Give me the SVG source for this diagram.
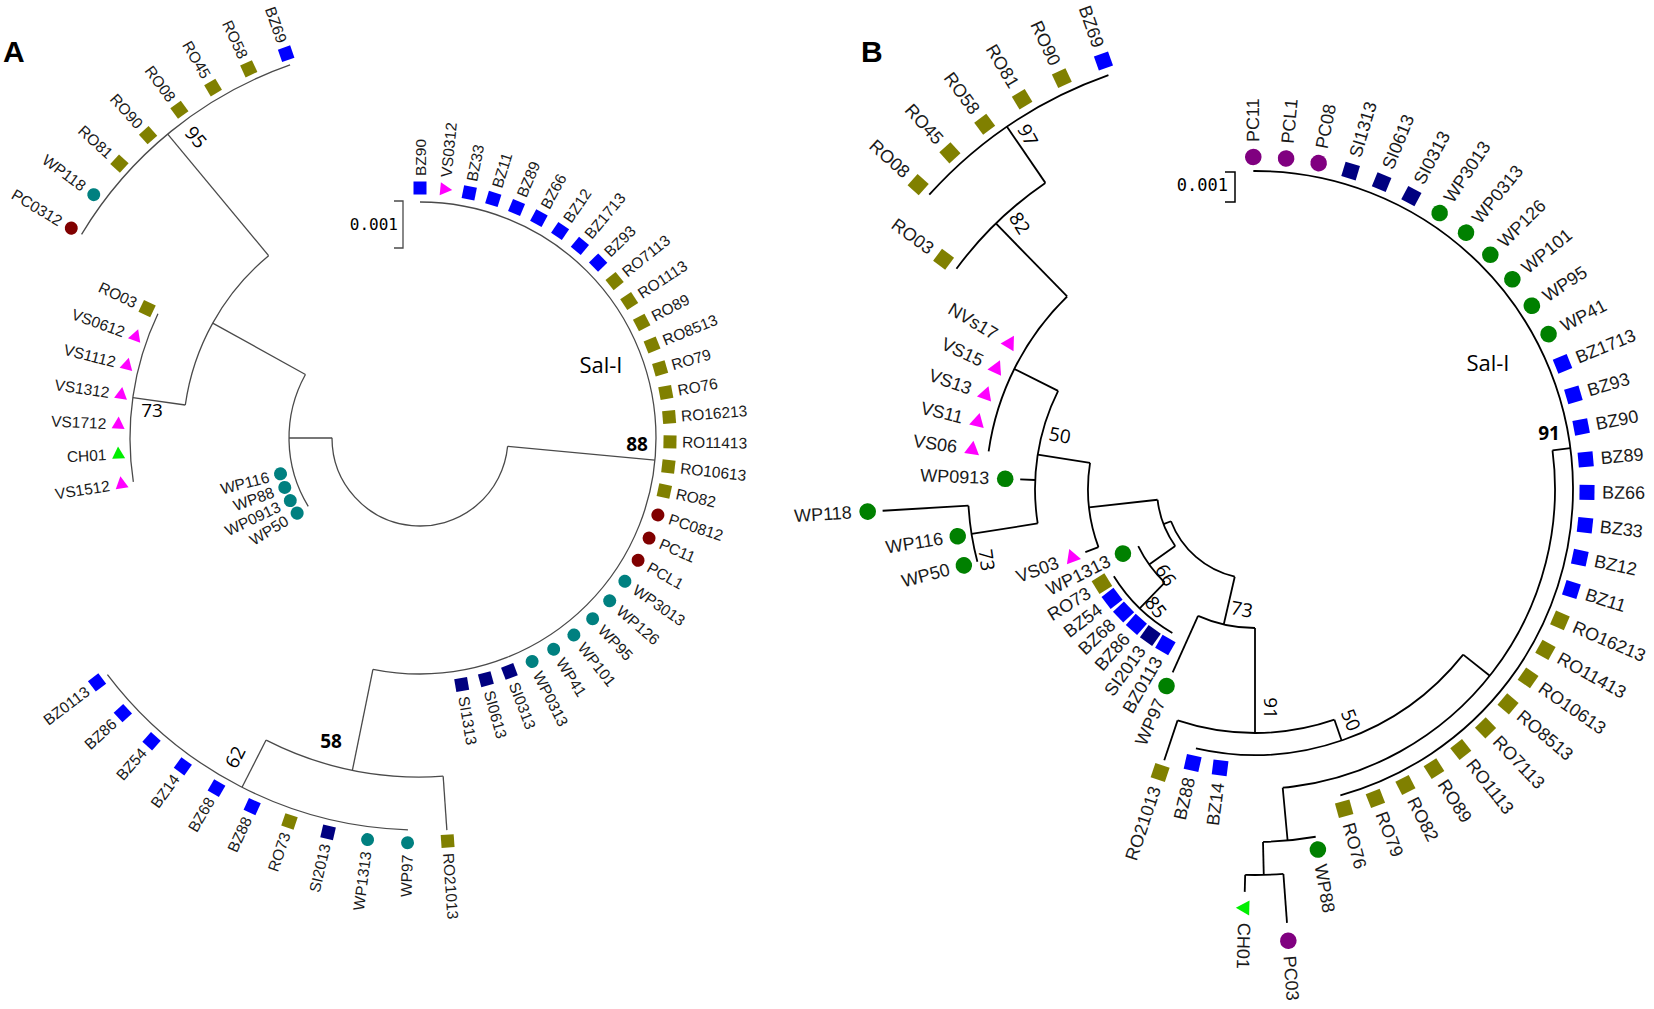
<svg xmlns="http://www.w3.org/2000/svg" width="1654" height="1009" viewBox="0 0 1654 1009">
<style>
.ea{fill:none;stroke:#4a4a4a;stroke-width:1.3}
.eb{fill:none;stroke:#000;stroke-width:1.8}
.la{font-family:"Liberation Sans",Arial,sans-serif;font-size:15.5px;fill:#1a1a1a;dominant-baseline:central}
.lb{font-family:"Liberation Sans",Arial,sans-serif;font-size:18px;fill:#1a1a1a;dominant-baseline:central}
.l{text-anchor:end}
.sup{font-family:"Open Sans","Liberation Sans",sans-serif;font-size:19px;fill:#000;text-anchor:middle;dominant-baseline:central}
.bold{font-weight:bold}
.clade{font-family:"Open Sans","Liberation Sans",sans-serif;font-size:22px;fill:#000;text-anchor:middle;dominant-baseline:central}
.scale{font-family:"DejaVu Sans Mono","Liberation Mono",monospace;fill:#000;text-anchor:end}
.panel{font-family:"Liberation Sans",Arial,sans-serif;font-size:30px;font-weight:bold;fill:#000}
.ro{fill:#808000}.bz{fill:#0000ff}.si{fill:#000080}.wpa{fill:#008080}.pca{fill:#800000}
.vs{fill:#ff00ff}.ch{fill:#00ee00}.wpb{fill:#008000}.pcb{fill:#800080}
</style>
<defs>
<rect id="mSqA" x="-6.5" y="-6.5" width="13" height="13"/>
<circle id="mCiA" r="6.5"/>
<path id="mTrA" d="M0,7.5 L-6.5,-4.5 L6.5,-4.5Z"/>
<rect id="mSqB" x="-7.5" y="-7.5" width="15" height="15"/>
<circle id="mCiB" r="8.3"/>
<path id="mTrB" d="M0,8.5 L-7.5,-5 L7.5,-5Z"/>
</defs>
<rect width="1654" height="1009" fill="#fff"/>

<text class="panel" x="3" y="62">A</text>
<text class="panel" x="861" y="62">B</text>

<!-- ================= PANEL A connectors ================= -->
<g id="connectors-A" class="ea" transform="translate(420,438)">
<circle r="88" pathLength="360" stroke-dasharray="174.6 360" transform="rotate(5.4)"/>
<circle r="131" pathLength="360" stroke-dasharray="60.44 360" transform="rotate(148.56)"/>
<circle r="237" pathLength="360" stroke-dasharray="42.3 360" transform="rotate(188)"/>
<circle r="290" pathLength="360" stroke-dasharray="34.08 360" transform="rotate(171.28)"/>
<circle r="395" pathLength="360" stroke-dasharray="39.76 360" transform="rotate(211.04)"/>
<circle r="236" pathLength="360" stroke-dasharray="191.5 360" transform="rotate(-90)"/>
<circle r="339" pathLength="360" stroke-dasharray="30.92 360" transform="rotate(86.08)"/>
<circle r="392" pathLength="360" stroke-dasharray="51.12 360" transform="rotate(91.76)"/>
<line x1="88" x2="131" transform="rotate(180)"/>
<line x1="131" x2="237" transform="rotate(209)"/>
<line x1="237" x2="290" transform="rotate(188)"/>
<line x1="237" x2="395" transform="rotate(230.3)"/>
<line x1="88" x2="236" transform="rotate(5.4)"/>
<line x1="236" x2="339" transform="rotate(101.5)"/>
<line x1="339" x2="393" transform="rotate(86.08)"/>
<line x1="339" x2="392" transform="rotate(117)"/>
</g>

<!-- ================= PANEL A leaves ================= -->
<g id="leaves-A" class="la" transform="translate(420,438)">
<g id="a-BZ90" transform="rotate(-90)"><use href="#mSqA" x="250" class="bz"/><text x="262">BZ90</text></g>
<g id="a-VS0312" transform="rotate(-84.32)"><use href="#mTrA" x="250" class="vs"/><text x="262">VS0312</text></g>
<g id="a-BZ33" transform="rotate(-78.64)"><use href="#mSqA" x="250" class="bz"/><text x="262">BZ33</text></g>
<g id="a-BZ11" transform="rotate(-72.96)"><use href="#mSqA" x="250" class="bz"/><text x="262">BZ11</text></g>
<g id="a-BZ89" transform="rotate(-67.28)"><use href="#mSqA" x="250" class="bz"/><text x="262">BZ89</text></g>
<g id="a-BZ66" transform="rotate(-61.6)"><use href="#mSqA" x="250" class="bz"/><text x="262">BZ66</text></g>
<g id="a-BZ12" transform="rotate(-55.92)"><use href="#mSqA" x="250" class="bz"/><text x="262">BZ12</text></g>
<g id="a-BZ1713" transform="rotate(-50.24)"><use href="#mSqA" x="250" class="bz"/><text x="262">BZ1713</text></g>
<g id="a-BZ93" transform="rotate(-44.56)"><use href="#mSqA" x="250" class="bz"/><text x="262">BZ93</text></g>
<g id="a-RO7113" transform="rotate(-38.88)"><use href="#mSqA" x="250" class="ro"/><text x="262">RO7113</text></g>
<g id="a-RO1113" transform="rotate(-33.2)"><use href="#mSqA" x="250" class="ro"/><text x="262">RO1113</text></g>
<g id="a-RO89" transform="rotate(-27.52)"><use href="#mSqA" x="250" class="ro"/><text x="262">RO89</text></g>
<g id="a-RO8513" transform="rotate(-21.84)"><use href="#mSqA" x="250" class="ro"/><text x="262">RO8513</text></g>
<g id="a-RO79" transform="rotate(-16.16)"><use href="#mSqA" x="250" class="ro"/><text x="262">RO79</text></g>
<g id="a-RO76" transform="rotate(-10.48)"><use href="#mSqA" x="250" class="ro"/><text x="262">RO76</text></g>
<g id="a-RO16213" transform="rotate(-4.8)"><use href="#mSqA" x="250" class="ro"/><text x="262">RO16213</text></g>
<g id="a-RO11413" transform="rotate(0.88)"><use href="#mSqA" x="250" class="ro"/><text x="262">RO11413</text></g>
<g id="a-RO10613" transform="rotate(6.56)"><use href="#mSqA" x="250" class="ro"/><text x="262">RO10613</text></g>
<g id="a-RO82" transform="rotate(12.24)"><use href="#mSqA" x="250" class="ro"/><text x="262">RO82</text></g>
<g id="a-PC0812" transform="rotate(17.92)"><use href="#mCiA" x="250" class="pca"/><text x="262">PC0812</text></g>
<g id="a-PC11" transform="rotate(23.6)"><use href="#mCiA" x="250" class="pca"/><text x="262">PC11</text></g>
<g id="a-PCL1" transform="rotate(29.28)"><use href="#mCiA" x="250" class="pca"/><text x="262">PCL1</text></g>
<g id="a-WP3013" transform="rotate(34.96)"><use href="#mCiA" x="250" class="wpa"/><text x="262">WP3013</text></g>
<g id="a-WP126" transform="rotate(40.64)"><use href="#mCiA" x="250" class="wpa"/><text x="262">WP126</text></g>
<g id="a-WP95" transform="rotate(46.32)"><use href="#mCiA" x="250" class="wpa"/><text x="262">WP95</text></g>
<g id="a-WP101" transform="rotate(52)"><use href="#mCiA" x="250" class="wpa"/><text x="262">WP101</text></g>
<g id="a-WP41" transform="rotate(57.68)"><use href="#mCiA" x="250" class="wpa"/><text x="262">WP41</text></g>
<g id="a-WP0313" transform="rotate(63.36)"><use href="#mCiA" x="250" class="wpa"/><text x="262">WP0313</text></g>
<g id="a-SI0313" transform="rotate(69.04)"><use href="#mSqA" x="250" class="si"/><text x="262">SI0313</text></g>
<g id="a-SI0613" transform="rotate(74.72)"><use href="#mSqA" x="250" class="si"/><text x="262">SI0613</text></g>
<g id="a-SI1313" transform="rotate(80.4)"><use href="#mSqA" x="250" class="si"/><text x="262">SI1313</text></g>
<g id="a-RO21013" transform="rotate(86.08)"><use href="#mSqA" x="404" class="ro"/><text x="416">RO21013</text></g>
<g id="a-WP97" transform="rotate(91.76)"><use href="#mCiA" x="405" class="wpa"/><text class="l" x="-417" transform="rotate(180)">WP97</text></g>
<g id="a-WP1313" transform="rotate(97.44)"><use href="#mCiA" x="405" class="wpa"/><text class="l" x="-417" transform="rotate(180)">WP1313</text></g>
<g id="a-SI2013" transform="rotate(103.12)"><use href="#mSqA" x="405" class="si"/><text class="l" x="-417" transform="rotate(180)">SI2013</text></g>
<g id="a-RO73" transform="rotate(108.8)"><use href="#mSqA" x="405" class="ro"/><text class="l" x="-417" transform="rotate(180)">RO73</text></g>
<g id="a-BZ88" transform="rotate(114.48)"><use href="#mSqA" x="405" class="bz"/><text class="l" x="-417" transform="rotate(180)">BZ88</text></g>
<g id="a-BZ68" transform="rotate(120.16)"><use href="#mSqA" x="405" class="bz"/><text class="l" x="-417" transform="rotate(180)">BZ68</text></g>
<g id="a-BZ14" transform="rotate(125.84)"><use href="#mSqA" x="405" class="bz"/><text class="l" x="-417" transform="rotate(180)">BZ14</text></g>
<g id="a-BZ54" transform="rotate(131.52)"><use href="#mSqA" x="405" class="bz"/><text class="l" x="-417" transform="rotate(180)">BZ54</text></g>
<g id="a-BZ86" transform="rotate(137.2)"><use href="#mSqA" x="405" class="bz"/><text class="l" x="-417" transform="rotate(180)">BZ86</text></g>
<g id="a-BZ0113" transform="rotate(142.88)"><use href="#mSqA" x="405" class="bz"/><text class="l" x="-417" transform="rotate(180)">BZ0113</text></g>
<g id="a-WP50" transform="rotate(148.56)"><use href="#mCiA" x="144" class="wpa"/><text class="l" x="-156" transform="rotate(180)">WP50</text></g>
<g id="a-WP0913" transform="rotate(154.24)"><use href="#mCiA" x="144" class="wpa"/><text class="l" x="-156" transform="rotate(180)">WP0913</text></g>
<g id="a-WP88" transform="rotate(159.92)"><use href="#mCiA" x="144" class="wpa"/><text class="l" x="-156" transform="rotate(180)">WP88</text></g>
<g id="a-WP116" transform="rotate(165.6)"><use href="#mCiA" x="144" class="wpa"/><text class="l" x="-156" transform="rotate(180)">WP116</text></g>
<g id="a-VS1512" transform="rotate(171.28)"><use href="#mTrA" x="302" class="vs"/><text class="l" x="-314" transform="rotate(180)">VS1512</text></g>
<g id="a-CH01" transform="rotate(176.96)"><use href="#mTrA" x="302" class="ch"/><text class="l" x="-314" transform="rotate(180)">CH01</text></g>
<g id="a-VS1712" transform="rotate(182.64)"><use href="#mTrA" x="302" class="vs"/><text class="l" x="-314" transform="rotate(180)">VS1712</text></g>
<g id="a-VS1312" transform="rotate(188.32)"><use href="#mTrA" x="302" class="vs"/><text class="l" x="-314" transform="rotate(180)">VS1312</text></g>
<g id="a-VS1112" transform="rotate(194)"><use href="#mTrA" x="302" class="vs"/><text class="l" x="-314" transform="rotate(180)">VS1112</text></g>
<g id="a-VS0612" transform="rotate(199.68)"><use href="#mTrA" x="302" class="vs"/><text class="l" x="-314" transform="rotate(180)">VS0612</text></g>
<g id="a-RO03" transform="rotate(205.36)"><use href="#mSqA" x="302" class="ro"/><text class="l" x="-314" transform="rotate(180)">RO03</text></g>
<g id="a-PC0312" transform="rotate(211.04)"><use href="#mCiA" x="407" class="pca"/><text class="l" x="-419" transform="rotate(180)">PC0312</text></g>
<g id="a-WP118" transform="rotate(216.72)"><use href="#mCiA" x="407" class="wpa"/><text class="l" x="-419" transform="rotate(180)">WP118</text></g>
<g id="a-RO81" transform="rotate(222.4)"><use href="#mSqA" x="407" class="ro"/><text class="l" x="-419" transform="rotate(180)">RO81</text></g>
<g id="a-RO90" transform="rotate(228.08)"><use href="#mSqA" x="407" class="ro"/><text class="l" x="-419" transform="rotate(180)">RO90</text></g>
<g id="a-RO08" transform="rotate(233.76)"><use href="#mSqA" x="407" class="ro"/><text class="l" x="-419" transform="rotate(180)">RO08</text></g>
<g id="a-RO45" transform="rotate(239.44)"><use href="#mSqA" x="407" class="ro"/><text class="l" x="-419" transform="rotate(180)">RO45</text></g>
<g id="a-RO58" transform="rotate(245.12)"><use href="#mSqA" x="407" class="ro"/><text class="l" x="-419" transform="rotate(180)">RO58</text></g>
<g id="a-BZ69" transform="rotate(250.8)"><use href="#mSqA" x="407" class="bz"/><text class="l" x="-419" transform="rotate(180)">BZ69</text></g>
</g>

<!-- Panel A labels -->
<g id="a-labels">
<text class="clade" x="601" y="364">Sal-I</text>
<text class="sup bold" x="637" y="444">88</text>
<text class="sup" x="196" y="137" transform="rotate(50,196,137)">95</text>
<text class="sup" x="152" y="410">73</text>
<text class="sup bold" x="331" y="741">58</text>
<text class="sup" x="235" y="757" transform="rotate(-63,235,757)">62</text>
<g id="a-scale"><path class="ea" d="M394,201 H403 V248 H394"/><text class="scale" x="398" y="230" font-size="16">0.001</text></g>
</g>

<!-- ================= PANEL B connectors ================= -->
<g id="connectors-B" class="eb" transform="translate(1255,489)">
<circle r="439" pathLength="360" stroke-dasharray="28.4 360" transform="rotate(222.1)"/>
<circle r="371" pathLength="360" stroke-dasharray="19.18 360" transform="rotate(216.42)"/>
<circle r="269" pathLength="360" stroke-dasharray="37.68 360" transform="rotate(188.02)"/>
<circle r="220" pathLength="360" stroke-dasharray="35.5 360" transform="rotate(171)"/>
<circle r="287" pathLength="360" stroke-dasharray="11.36 360" transform="rotate(165.3)"/>
<circle r="167" pathLength="360" stroke-dasharray="29.38 360" transform="rotate(159.62)"/>
<circle r="98" pathLength="360" stroke-dasharray="29.2 360" transform="rotate(144.5)"/>
<circle r="90" pathLength="360" stroke-dasharray="56 360" transform="rotate(103)"/>
<circle r="130" pathLength="360" stroke-dasharray="19.94 360" transform="rotate(134)"/>
<circle r="166" pathLength="360" stroke-dasharray="28.4 360" transform="rotate(119.86)"/>
<circle r="139" pathLength="360" stroke-dasharray="24.18 360" transform="rotate(90)"/>
<circle r="244" pathLength="360" stroke-dasharray="37.5 360" transform="rotate(71)"/>
<circle r="266" pathLength="360" stroke-dasharray="64.32 360" transform="rotate(38.5)"/>
<circle r="300" pathLength="360" stroke-dasharray="92.1 360" transform="rotate(-7.4)"/>
<circle r="318" pathLength="360" stroke-dasharray="164.72 360" transform="rotate(-90.3)"/>
<circle r="353" pathLength="360" stroke-dasharray="8.6 360" transform="rotate(80.1)"/>
<circle r="386" pathLength="360" stroke-dasharray="5.68 360" transform="rotate(85.78)"/>
<line x1="371" x2="439" transform="rotate(235.6)"/>
<line x1="269" x2="371" transform="rotate(225.7)"/>
<line x1="220" x2="269" transform="rotate(206.5)"/>
<line x1="220" x2="235" transform="rotate(182.34)"/>
<line x1="220" x2="287" transform="rotate(171)"/>
<line x1="287" x2="373" transform="rotate(176.66)"/>
<line x1="167" x2="220" transform="rotate(189)"/>
<line x1="167" x2="181" transform="rotate(159.62)"/>
<line x1="98" x2="167" transform="rotate(173.7)"/>
<line x1="90" x2="98" transform="rotate(159)"/>
<line x1="98" x2="130" transform="rotate(144.5)"/>
<line x1="130" x2="166" transform="rotate(134)"/>
<line x1="90" x2="139" transform="rotate(103)"/>
<line x1="139" x2="201" transform="rotate(114.18)"/>
<line x1="139" x2="244" transform="rotate(90)"/>
<line x1="244" x2="286" transform="rotate(108.5)"/>
<line x1="244" x2="266" transform="rotate(71)"/>
<line x1="266" x2="300" transform="rotate(38.5)"/>
<line x1="300" x2="318" transform="rotate(-7.4)"/>
<line x1="300" x2="353" transform="rotate(84.7)"/>
<line x1="353" x2="386" transform="rotate(88.7)"/>
<line x1="386" x2="403" transform="rotate(91.46)"/>
<line x1="386" x2="435" transform="rotate(85.78)"/>
</g>

<!-- ================= PANEL B leaves ================= -->
<g id="leaves-B" class="lb" transform="translate(1255,489)">
<g id="b-PC11" transform="rotate(-90.3)"><use href="#mCiB" x="332" class="pcb"/><text x="347">PC11</text></g>
<g id="b-PCL1" transform="rotate(-84.62)"><use href="#mCiB" x="332" class="pcb"/><text x="347">PCL1</text></g>
<g id="b-PC08" transform="rotate(-78.94)"><use href="#mCiB" x="332" class="pcb"/><text x="347">PC08</text></g>
<g id="b-SI1313" transform="rotate(-73.26)"><use href="#mSqB" x="332" class="si"/><text x="347">SI1313</text></g>
<g id="b-SI0613" transform="rotate(-67.58)"><use href="#mSqB" x="332" class="si"/><text x="347">SI0613</text></g>
<g id="b-SI0313" transform="rotate(-61.9)"><use href="#mSqB" x="332" class="si"/><text x="347">SI0313</text></g>
<g id="b-WP3013" transform="rotate(-56.22)"><use href="#mCiB" x="332" class="wpb"/><text x="347">WP3013</text></g>
<g id="b-WP0313" transform="rotate(-50.54)"><use href="#mCiB" x="332" class="wpb"/><text x="347">WP0313</text></g>
<g id="b-WP126" transform="rotate(-44.86)"><use href="#mCiB" x="332" class="wpb"/><text x="347">WP126</text></g>
<g id="b-WP101" transform="rotate(-39.18)"><use href="#mCiB" x="332" class="wpb"/><text x="347">WP101</text></g>
<g id="b-WP95" transform="rotate(-33.5)"><use href="#mCiB" x="332" class="wpb"/><text x="347">WP95</text></g>
<g id="b-WP41" transform="rotate(-27.82)"><use href="#mCiB" x="332" class="wpb"/><text x="347">WP41</text></g>
<g id="b-BZ1713" transform="rotate(-22.14)"><use href="#mSqB" x="332" class="bz"/><text x="347">BZ1713</text></g>
<g id="b-BZ93" transform="rotate(-16.46)"><use href="#mSqB" x="332" class="bz"/><text x="347">BZ93</text></g>
<g id="b-BZ90" transform="rotate(-10.78)"><use href="#mSqB" x="332" class="bz"/><text x="347">BZ90</text></g>
<g id="b-BZ89" transform="rotate(-5.1)"><use href="#mSqB" x="332" class="bz"/><text x="347">BZ89</text></g>
<g id="b-BZ66" transform="rotate(0.58)"><use href="#mSqB" x="332" class="bz"/><text x="347">BZ66</text></g>
<g id="b-BZ33" transform="rotate(6.26)"><use href="#mSqB" x="332" class="bz"/><text x="347">BZ33</text></g>
<g id="b-BZ12" transform="rotate(11.94)"><use href="#mSqB" x="332" class="bz"/><text x="347">BZ12</text></g>
<g id="b-BZ11" transform="rotate(17.62)"><use href="#mSqB" x="332" class="bz"/><text x="347">BZ11</text></g>
<g id="b-RO16213" transform="rotate(23.3)"><use href="#mSqB" x="332" class="ro"/><text x="347">RO16213</text></g>
<g id="b-RO11413" transform="rotate(28.98)"><use href="#mSqB" x="332" class="ro"/><text x="347">RO11413</text></g>
<g id="b-RO10613" transform="rotate(34.66)"><use href="#mSqB" x="332" class="ro"/><text x="347">RO10613</text></g>
<g id="b-RO8513" transform="rotate(40.34)"><use href="#mSqB" x="332" class="ro"/><text x="347">RO8513</text></g>
<g id="b-RO7113" transform="rotate(46.02)"><use href="#mSqB" x="332" class="ro"/><text x="347">RO7113</text></g>
<g id="b-RO1113" transform="rotate(51.7)"><use href="#mSqB" x="332" class="ro"/><text x="347">RO1113</text></g>
<g id="b-RO89" transform="rotate(57.38)"><use href="#mSqB" x="332" class="ro"/><text x="347">RO89</text></g>
<g id="b-RO82" transform="rotate(63.06)"><use href="#mSqB" x="332" class="ro"/><text x="347">RO82</text></g>
<g id="b-RO79" transform="rotate(68.74)"><use href="#mSqB" x="332" class="ro"/><text x="347">RO79</text></g>
<g id="b-RO76" transform="rotate(74.42)"><use href="#mSqB" x="332" class="ro"/><text x="347">RO76</text></g>
<g id="b-WP88" transform="rotate(80.1)"><use href="#mCiB" x="366" class="wpb"/><text x="381">WP88</text></g>
<g id="b-PC03" transform="rotate(85.78)"><use href="#mCiB" x="453" class="pcb"/><text x="468">PC03</text></g>
<g id="b-CH01" transform="rotate(91.46)"><use href="#mTrB" x="419" class="ch"/><text x="434">CH01</text></g>
<g id="b-BZ14" transform="rotate(97.14)"><use href="#mSqB" x="281" class="bz"/><text class="l" x="-296" transform="rotate(180)">BZ14</text></g>
<g id="b-BZ88" transform="rotate(102.82)"><use href="#mSqB" x="281" class="bz"/><text class="l" x="-296" transform="rotate(180)">BZ88</text></g>
<g id="b-RO21013" transform="rotate(108.5)"><use href="#mSqB" x="299" class="ro"/><text class="l" x="-314" transform="rotate(180)">RO21013</text></g>
<g id="b-WP97" transform="rotate(114.18)"><use href="#mCiB" x="216" class="wpb"/><text class="l" x="-231" transform="rotate(180)">WP97</text></g>
<g id="b-BZ0113" transform="rotate(119.86)"><use href="#mSqB" x="180" class="bz"/><text class="l" x="-195" transform="rotate(180)">BZ0113</text></g>
<g id="b-SI2013" transform="rotate(125.54)"><use href="#mSqB" x="180" class="si"/><text class="l" x="-195" transform="rotate(180)">SI2013</text></g>
<g id="b-BZ86" transform="rotate(131.22)"><use href="#mSqB" x="180" class="bz"/><text class="l" x="-195" transform="rotate(180)">BZ86</text></g>
<g id="b-BZ68" transform="rotate(136.9)"><use href="#mSqB" x="180" class="bz"/><text class="l" x="-195" transform="rotate(180)">BZ68</text></g>
<g id="b-BZ54" transform="rotate(142.58)"><use href="#mSqB" x="180" class="bz"/><text class="l" x="-195" transform="rotate(180)">BZ54</text></g>
<g id="b-RO73" transform="rotate(148.26)"><use href="#mSqB" x="180" class="ro"/><text class="l" x="-195" transform="rotate(180)">RO73</text></g>
<g id="b-WP1313" transform="rotate(153.94)"><use href="#mCiB" x="147" class="wpb"/><text class="l" x="-162" transform="rotate(180)">WP1313</text></g>
<g id="b-VS03" transform="rotate(159.62)"><use href="#mTrB" x="195" class="vs"/><text class="l" x="-210" transform="rotate(180)">VS03</text></g>
<g id="b-WP50" transform="rotate(165.3)"><use href="#mCiB" x="301" class="wpb"/><text class="l" x="-316" transform="rotate(180)">WP50</text></g>
<g id="b-WP116" transform="rotate(170.98)"><use href="#mCiB" x="301" class="wpb"/><text class="l" x="-316" transform="rotate(180)">WP116</text></g>
<g id="b-WP118" transform="rotate(176.66)"><use href="#mCiB" x="388" class="wpb"/><text class="l" x="-404" transform="rotate(180)">WP118</text></g>
<g id="b-WP0913" transform="rotate(182.34)"><use href="#mCiB" x="250" class="wpb"/><text class="l" x="-266" transform="rotate(180)">WP0913</text></g>
<g id="b-VS06" transform="rotate(188.02)"><use href="#mTrB" x="285.5" class="vs"/><text class="l" x="-301" transform="rotate(180)">VS06</text></g>
<g id="b-VS11" transform="rotate(193.7)"><use href="#mTrB" x="285.5" class="vs"/><text class="l" x="-301" transform="rotate(180)">VS11</text></g>
<g id="b-VS13" transform="rotate(199.38)"><use href="#mTrB" x="285.5" class="vs"/><text class="l" x="-301" transform="rotate(180)">VS13</text></g>
<g id="b-VS15" transform="rotate(205.06)"><use href="#mTrB" x="285.5" class="vs"/><text class="l" x="-301" transform="rotate(180)">VS15</text></g>
<g id="b-NVs17" transform="rotate(210.74)"><use href="#mTrB" x="285.5" class="vs"/><text class="l" x="-301" transform="rotate(180)">NVs17</text></g>
<g id="b-RO03" transform="rotate(216.42)"><use href="#mSqB" x="387" class="ro"/><text class="l" x="-402" transform="rotate(180)">RO03</text></g>
<g id="b-RO08" transform="rotate(222.1)"><use href="#mSqB" x="454" class="ro"/><text class="l" x="-469" transform="rotate(180)">RO08</text></g>
<g id="b-RO45" transform="rotate(227.78)"><use href="#mSqB" x="454" class="ro"/><text class="l" x="-469" transform="rotate(180)">RO45</text></g>
<g id="b-RO58" transform="rotate(233.46)"><use href="#mSqB" x="454" class="ro"/><text class="l" x="-469" transform="rotate(180)">RO58</text></g>
<g id="b-RO81" transform="rotate(239.14)"><use href="#mSqB" x="454" class="ro"/><text class="l" x="-469" transform="rotate(180)">RO81</text></g>
<g id="b-RO90" transform="rotate(244.82)"><use href="#mSqB" x="454" class="ro"/><text class="l" x="-469" transform="rotate(180)">RO90</text></g>
<g id="b-BZ69" transform="rotate(250.5)"><use href="#mSqB" x="454" class="bz"/><text class="l" x="-469" transform="rotate(180)">BZ69</text></g>
</g>

<!-- Panel B labels -->
<g id="b-labels">
<text class="clade" x="1488" y="362">Sal-I</text>
<text class="sup bold" x="1549" y="433">91</text>
<text class="sup" x="1028" y="135" transform="rotate(62,1028,135)">97</text>
<text class="sup" x="1020" y="223" transform="rotate(58,1020,223)">82</text>
<text class="sup" x="1060" y="435" transform="rotate(10,1060,435)">50</text>
<text class="sup" x="987" y="560" transform="rotate(82,987,560)">73</text>
<text class="sup" x="1166" y="575" transform="rotate(58,1166,575)">66</text>
<text class="sup" x="1156" y="607" transform="rotate(52,1156,607)">85</text>
<text class="sup" x="1242" y="609" transform="rotate(10,1242,609)">73</text>
<text class="sup" x="1271" y="708" transform="rotate(90,1271,708)">91</text>
<text class="sup" x="1351" y="720" transform="rotate(68,1351,720)">50</text>
<g id="b-scale"><path class="eb" d="M1225,172 H1235 V202 H1225" style="stroke-width:1.5"/><text class="scale" x="1228" y="191" font-size="17">0.001</text></g>
</g>
</svg>
